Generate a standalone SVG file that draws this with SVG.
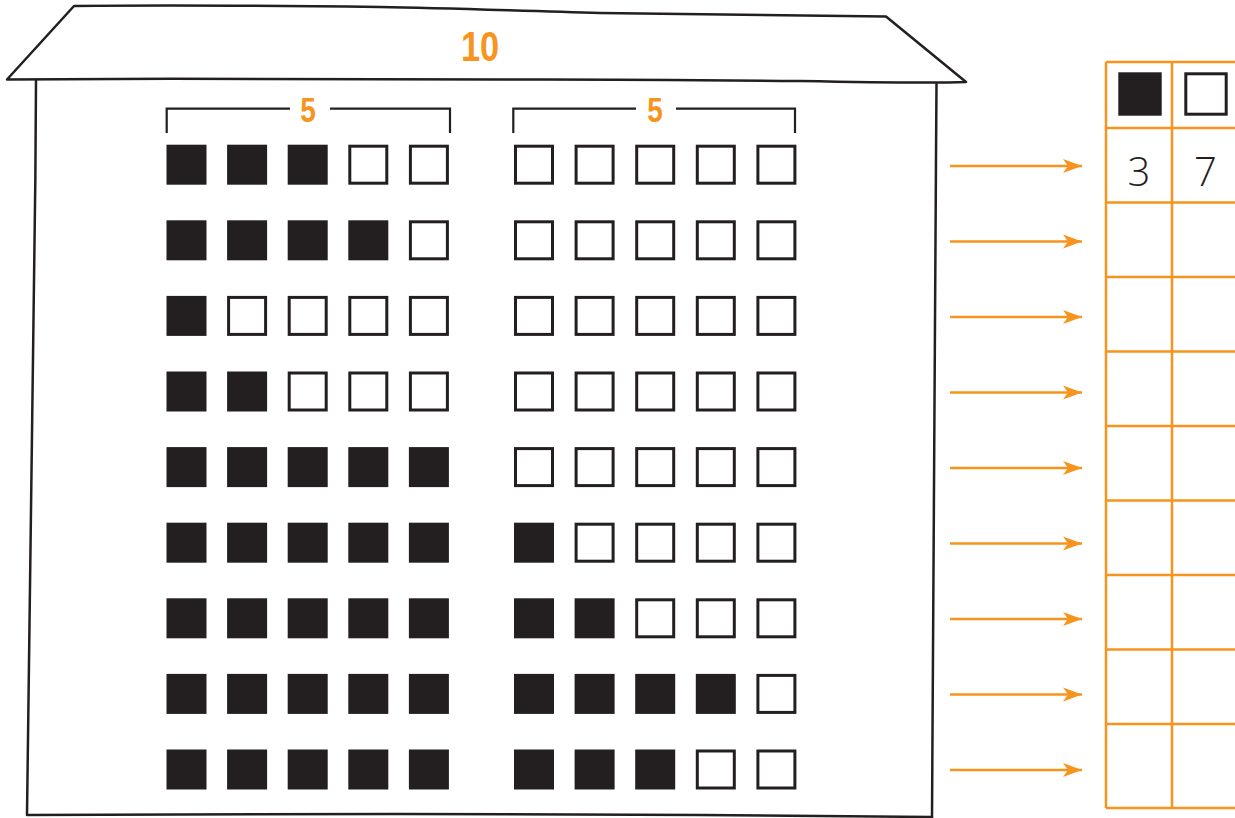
<svg xmlns="http://www.w3.org/2000/svg" xmlns:xlink="http://www.w3.org/1999/xlink" width="1235" height="818" viewBox="0 0 1235 818">
<style>
.sk{fill:none;stroke:#231f20;stroke-width:2.5;stroke-linejoin:round;stroke-linecap:round}
.br{fill:none;stroke:#231f20;stroke-width:2.2}
.or{fill:none;stroke:#f7941d;stroke-width:2.5}
.ar{stroke:#f7941d;stroke-width:2.5;fill:none}
.lbl{font-family:"Liberation Sans",Arial,sans-serif;font-weight:bold;fill:#f7941d;text-anchor:middle}
.num{font-family:"Open Sans","Liberation Sans",sans-serif;font-weight:300;font-size:40px;fill:#231f20;text-anchor:middle}
</style>
<defs>
<rect id="f" width="40" height="40" fill="#231f20"/>
<rect id="e" x="1.5" y="1.5" width="37" height="37" fill="#fff" stroke="#231f20" stroke-width="3"/>
<marker id="ah" markerUnits="userSpaceOnUse" markerWidth="22" markerHeight="18" refX="19" refY="8" orient="auto">
<path d="M0,1 L19,8 L0,15 L5,8 Z" fill="#f7941d"/>
</marker>
</defs>
<rect width="1235" height="818" fill="#fff"/>
<g id="building">
<path class="sk" d="M7,79.5 L74,6 C160,5 300,6 380,7 C450,8 520,11 600,13 C700,14 800,15 886,16.5 L966,82 C940,83 900,83 800,81 C700,80 600,79 500,79.5 C400,80 300,79 173,78.8 C100,79 40,79 7,79.5 Z"/>
<path class="sk" d="M36,80 C35,300 31,500 27,815 C200,813 500,814 700,815 C800,816 880,816 932,817"/>
<path class="sk" d="M936.5,84 C935,300 934,500 932,818"/>
<text class="lbl" font-size="43" transform="translate(480,61) scale(0.8,1)">10</text>
</g>
<g id="bracket-left">
<path class="br" d="M166.7,133 V108.7 H290 M330,108.7 H450 V133"/>
<text class="lbl" font-size="35" transform="translate(308,122) scale(0.8,1)">5</text>
</g>
<g id="bracket-right">
<path class="br" d="M513.3,133 V108.7 H636 M676,108.7 H795 V133"/>
<text class="lbl" font-size="35" transform="translate(655,122) scale(0.8,1)">5</text>
</g>
<g id="row1" transform="translate(0,144.7)">
<use href="#f" x="166.5"/><use href="#f" x="227.1"/><use href="#f" x="287.7"/><use href="#e" x="348.3"/><use href="#e" x="408.9"/>
<use href="#e" x="514"/><use href="#e" x="574.6"/><use href="#e" x="635.2"/><use href="#e" x="695.8"/><use href="#e" x="756.4"/>
</g>
<g id="row2" transform="translate(0,220.3)">
<use href="#f" x="166.5"/><use href="#f" x="227.1"/><use href="#f" x="287.7"/><use href="#f" x="348.3"/><use href="#e" x="408.9"/>
<use href="#e" x="514"/><use href="#e" x="574.6"/><use href="#e" x="635.2"/><use href="#e" x="695.8"/><use href="#e" x="756.4"/>
</g>
<g id="row3" transform="translate(0,295.9)">
<use href="#f" x="166.5"/><use href="#e" x="227.1"/><use href="#e" x="287.7"/><use href="#e" x="348.3"/><use href="#e" x="408.9"/>
<use href="#e" x="514"/><use href="#e" x="574.6"/><use href="#e" x="635.2"/><use href="#e" x="695.8"/><use href="#e" x="756.4"/>
</g>
<g id="row4" transform="translate(0,371.5)">
<use href="#f" x="166.5"/><use href="#f" x="227.1"/><use href="#e" x="287.7"/><use href="#e" x="348.3"/><use href="#e" x="408.9"/>
<use href="#e" x="514"/><use href="#e" x="574.6"/><use href="#e" x="635.2"/><use href="#e" x="695.8"/><use href="#e" x="756.4"/>
</g>
<g id="row5" transform="translate(0,447.1)">
<use href="#f" x="166.5"/><use href="#f" x="227.1"/><use href="#f" x="287.7"/><use href="#f" x="348.3"/><use href="#f" x="408.9"/>
<use href="#e" x="514"/><use href="#e" x="574.6"/><use href="#e" x="635.2"/><use href="#e" x="695.8"/><use href="#e" x="756.4"/>
</g>
<g id="row6" transform="translate(0,522.7)">
<use href="#f" x="166.5"/><use href="#f" x="227.1"/><use href="#f" x="287.7"/><use href="#f" x="348.3"/><use href="#f" x="408.9"/>
<use href="#f" x="514"/><use href="#e" x="574.6"/><use href="#e" x="635.2"/><use href="#e" x="695.8"/><use href="#e" x="756.4"/>
</g>
<g id="row7" transform="translate(0,598.3)">
<use href="#f" x="166.5"/><use href="#f" x="227.1"/><use href="#f" x="287.7"/><use href="#f" x="348.3"/><use href="#f" x="408.9"/>
<use href="#f" x="514"/><use href="#f" x="574.6"/><use href="#e" x="635.2"/><use href="#e" x="695.8"/><use href="#e" x="756.4"/>
</g>
<g id="row8" transform="translate(0,673.9)">
<use href="#f" x="166.5"/><use href="#f" x="227.1"/><use href="#f" x="287.7"/><use href="#f" x="348.3"/><use href="#f" x="408.9"/>
<use href="#f" x="514"/><use href="#f" x="574.6"/><use href="#f" x="635.2"/><use href="#f" x="695.8"/><use href="#e" x="756.4"/>
</g>
<g id="row9" transform="translate(0,749.5)">
<use href="#f" x="166.5"/><use href="#f" x="227.1"/><use href="#f" x="287.7"/><use href="#f" x="348.3"/><use href="#f" x="408.9"/>
<use href="#f" x="514"/><use href="#f" x="574.6"/><use href="#f" x="635.2"/><use href="#e" x="695.8"/><use href="#e" x="756.4"/>
</g>
<g id="table">
<path class="or" d="M1106,62 V808 M1172,62 V808 M1106,62 H1236 M1106,128 H1236 M1106,202.5 H1236 M1106,277 H1236 M1106,351.5 H1236 M1106,426 H1236 M1106,500.5 H1236 M1106,575 H1236 M1106,649.5 H1236 M1106,724 H1236 M1106,808 H1236"/>
<rect x="1118.3" y="72.3" width="43.4" height="43.4" fill="#231f20"/>
<rect x="1185.8" y="73.8" width="40.4" height="40.4" fill="#fff" stroke="#231f20" stroke-width="3"/>
<text class="num" x="1139" y="186">3</text>
<text class="num" x="1205.5" y="186">7</text>
</g>
<g id="connectors">
<line class="ar" x1="950" y1="166" x2="1082" y2="166" marker-end="url(#ah)"/>
<line class="ar" x1="950" y1="241.5" x2="1082" y2="241.5" marker-end="url(#ah)"/>
<line class="ar" x1="950" y1="317" x2="1082" y2="317" marker-end="url(#ah)"/>
<line class="ar" x1="950" y1="392.5" x2="1082" y2="392.5" marker-end="url(#ah)"/>
<line class="ar" x1="950" y1="468" x2="1082" y2="468" marker-end="url(#ah)"/>
<line class="ar" x1="950" y1="543.5" x2="1082" y2="543.5" marker-end="url(#ah)"/>
<line class="ar" x1="950" y1="619" x2="1082" y2="619" marker-end="url(#ah)"/>
<line class="ar" x1="950" y1="694.5" x2="1082" y2="694.5" marker-end="url(#ah)"/>
<line class="ar" x1="950" y1="770" x2="1082" y2="770" marker-end="url(#ah)"/>
</g>
</svg>
